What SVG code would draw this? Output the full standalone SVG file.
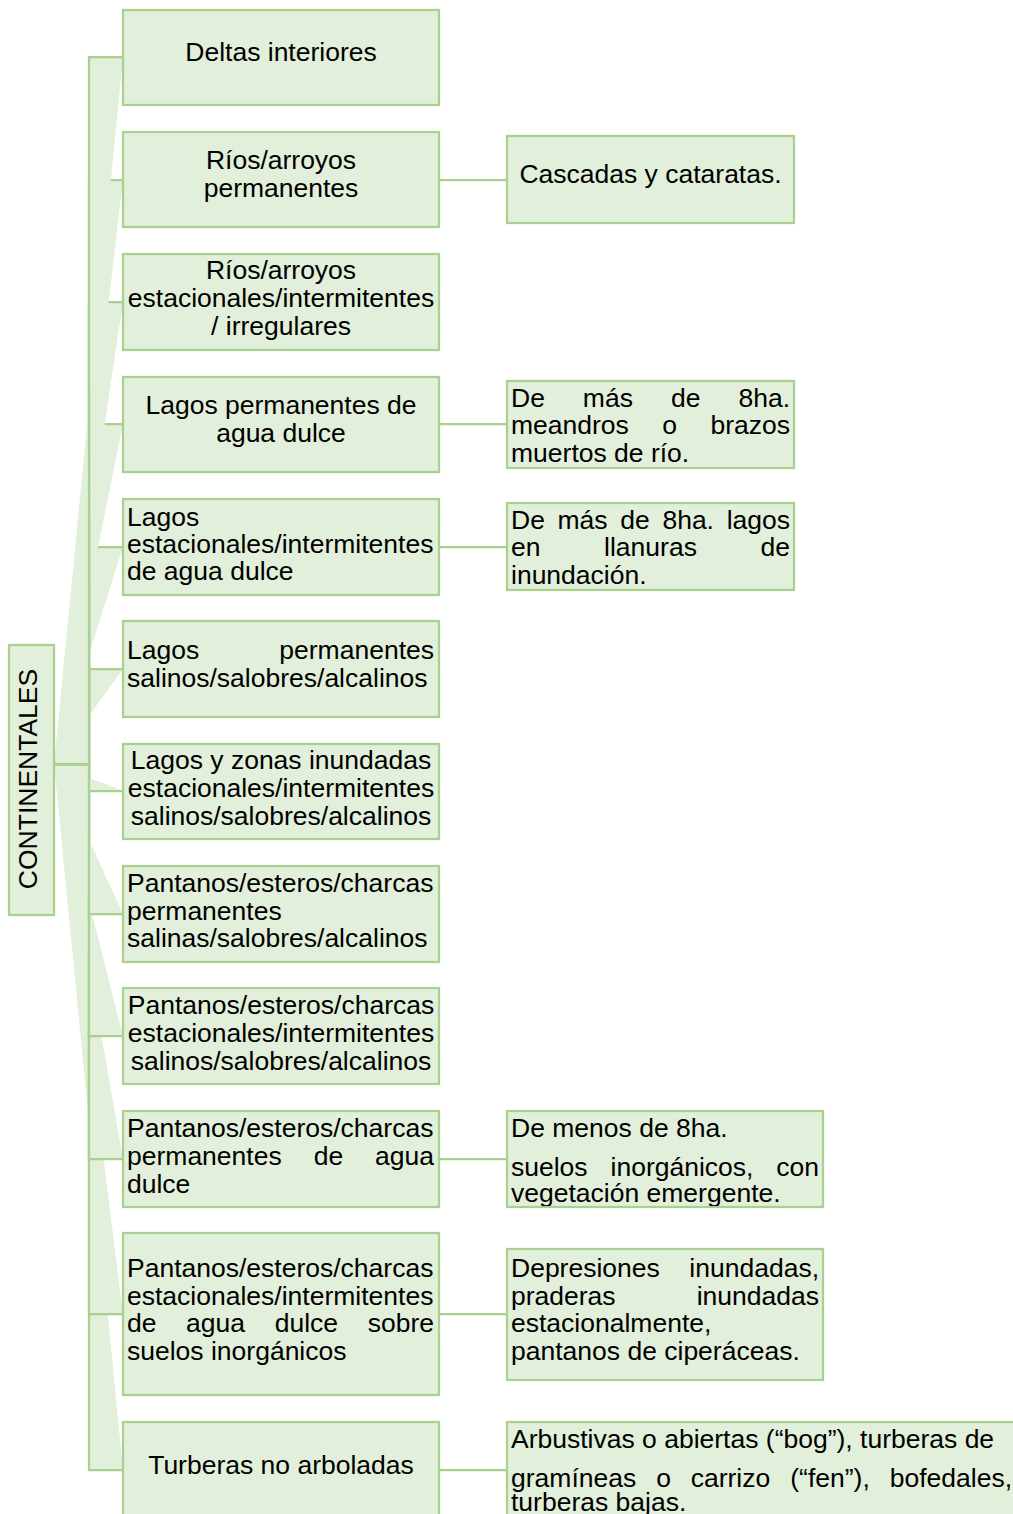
<svg xmlns="http://www.w3.org/2000/svg" width="1013" height="1514" viewBox="0 0 1013 1514">
<style>
.box{fill:#E2EFDA;stroke:#A9D08E;stroke-width:2.25}
.conn{fill:#E2EFDA;stroke:#A9D08E;stroke-width:2.25}
.ln{fill:none;stroke:#A9D08E;stroke-width:2.25}
text{font-family:"Liberation Sans",Arial,sans-serif;font-size:26.5px;fill:#000}
.m{text-anchor:middle}
.e{text-anchor:end}
</style>
<defs>
<clipPath id="clipR4"><rect x="507" y="1111" width="316" height="95"/></clipPath>
</defs>
<rect width="1013" height="1514" fill="#fff"/>
<g id="connectors">
<path class="conn" d="M54,764 H89 V1470 H123"/>
<path class="conn" d="M54,764 H89 V1314 H123"/>
<path class="conn" d="M54,764 H89 V1159 H123"/>
<path class="conn" d="M54,764 H89 V1036 H123"/>
<path class="conn" d="M54,764 H89 V914 H123"/>
<path class="conn" d="M54,764 H89 V791 H123"/>
<path class="conn" d="M54,764 H89 V669 H123"/>
<path class="conn" d="M54,764 H89 V547 H123"/>
<path class="conn" d="M54,764 H89 V424 H123"/>
<path class="conn" d="M54,764 H89 V302 H123"/>
<path class="conn" d="M54,764 H89 V180 H123"/>
<path class="conn" d="M54,764 H89 V57 H123"/>
<path class="ln" d="M439,180 H507"/>
<path class="ln" d="M439,424 H507"/>
<path class="ln" d="M439,547 H507"/>
<path class="ln" d="M439,1159 H507"/>
<path class="ln" d="M439,1314 H507"/>
<path class="ln" d="M439,1470 H507"/>
</g>
<g id="root">
<rect class="box" x="9" y="645" width="45" height="270"/>
<text class="m" transform="translate(37,779) rotate(-90)">CONTINENTALES</text>
</g>
<g id="n1">
<rect class="box" x="123" y="10" width="316" height="95"/>
<text class="m" x="281" y="61">Deltas interiores</text>
</g>
<g id="n2">
<rect class="box" x="123" y="132" width="316" height="95"/>
<text class="m" x="281" y="169">Ríos/arroyos</text>
<text class="m" x="281" y="197">permanentes</text>
</g>
<g id="n3">
<rect class="box" x="123" y="254" width="316" height="96"/>
<text class="m" x="281" y="279">Ríos/arroyos</text>
<text class="m" x="281" y="307">estacionales/intermitentes</text>
<text class="m" x="281" y="335">/ irregulares</text>
</g>
<g id="n4">
<rect class="box" x="123" y="377" width="316" height="95"/>
<text class="m" x="281" y="414">Lagos permanentes de</text>
<text class="m" x="281" y="442">agua dulce</text>
</g>
<g id="n5">
<rect class="box" x="123" y="499" width="316" height="96"/>
<text x="127" y="526">Lagos</text>
<text x="127" y="553">estacionales/intermitentes</text>
<text x="127" y="580">de agua dulce</text>
</g>
<g id="n6">
<rect class="box" x="123" y="621" width="316" height="96"/>
<text x="127" y="659">Lagos</text>
<text class="e" x="434" y="659">permanentes</text>
<text x="127" y="687">salinos/salobres/alcalinos</text>
</g>
<g id="n7">
<rect class="box" x="123" y="744" width="316" height="95"/>
<text class="m" x="281" y="769">Lagos y zonas inundadas</text>
<text class="m" x="281" y="797">estacionales/intermitentes</text>
<text class="m" x="281" y="825">salinos/salobres/alcalinos</text>
</g>
<g id="n8">
<rect class="box" x="123" y="866" width="316" height="96"/>
<text x="127" y="892">Pantanos/esteros/charcas</text>
<text x="127" y="920">permanentes</text>
<text x="127" y="947">salinas/salobres/alcalinos</text>
</g>
<g id="n9">
<rect class="box" x="123" y="988" width="316" height="96"/>
<text class="m" x="281" y="1014">Pantanos/esteros/charcas</text>
<text class="m" x="281" y="1042">estacionales/intermitentes</text>
<text class="m" x="281" y="1070">salinos/salobres/alcalinos</text>
</g>
<g id="n10">
<rect class="box" x="123" y="1111" width="316" height="96"/>
<text x="127" y="1137">Pantanos/esteros/charcas</text>
<text x="127" y="1165">permanentes</text>
<text class="m" x="328.4" y="1165">de</text>
<text class="e" x="434" y="1165">agua</text>
<text x="127" y="1193">dulce</text>
</g>
<g id="n11">
<rect class="box" x="123" y="1233" width="316" height="162"/>
<text x="127" y="1277">Pantanos/esteros/charcas</text>
<text x="127" y="1305">estacionales/intermitentes</text>
<text x="127" y="1332">de</text>
<text class="m" x="215.6" y="1332">agua</text>
<text class="m" x="306.4" y="1332">dulce</text>
<text class="e" x="434" y="1332">sobre</text>
<text x="127" y="1360">suelos inorgánicos</text>
</g>
<g id="n12">
<rect class="box" x="123" y="1422" width="316" height="96"/>
<text class="m" x="281" y="1474">Turberas no arboladas</text>
</g>
<g id="r1">
<rect class="box" x="507" y="136" width="287" height="87"/>
<text class="m" x="650.5" y="183">Cascadas y cataratas.</text>
</g>
<g id="r2">
<rect class="box" x="507" y="381" width="287" height="87"/>
<text x="511" y="407">De</text>
<text class="m" x="607.9" y="407">más</text>
<text class="m" x="685.7" y="407">de</text>
<text class="e" x="790" y="407">8ha.</text>
<text x="511" y="434">meandros</text>
<text class="m" x="669.7" y="434">o</text>
<text class="e" x="790" y="434">brazos</text>
<text x="511" y="462">muertos de río.</text>
</g>
<g id="r3">
<rect class="box" x="507" y="503" width="287" height="87"/>
<text x="511" y="529">De</text>
<text class="m" x="582.6" y="529">más</text>
<text class="m" x="635" y="529">de</text>
<text class="m" x="688.2" y="529">8ha.</text>
<text class="e" x="790" y="529">lagos</text>
<text x="511" y="556">en</text>
<text class="m" x="650.5" y="556">llanuras</text>
<text class="e" x="790" y="556">de</text>
<text x="511" y="584">inundación.</text>
</g>
<g id="r4">
<rect class="box" x="507" y="1111" width="316" height="96"/>
<g clip-path="url(#clipR4)">
<text x="511" y="1137">De menos de 8ha.</text>
<text x="511" y="1176">suelos</text>
<text class="m" x="682" y="1176">inorgánicos,</text>
<text class="e" x="819" y="1176">con</text>
<text x="511" y="1202">vegetación emergente.</text>
</g>
</g>
<g id="r5">
<rect class="box" x="507" y="1249" width="316" height="131"/>
<text x="511" y="1277">Depresiones</text>
<text class="e" x="819" y="1277">inundadas,</text>
<text x="511" y="1305">praderas</text>
<text class="e" x="819" y="1305">inundadas</text>
<text x="511" y="1332">estacionalmente,</text>
<text x="511" y="1360">pantanos de ciperáceas.</text>
</g>
<g id="r6">
<rect class="box" x="507" y="1422" width="520" height="100"/>
<text x="511" y="1448">Arbustivas o abiertas (“bog”), turberas de</text>
<text x="511" y="1487">gramíneas</text>
<text class="m" x="663.5" y="1487">o</text>
<text class="m" x="730.5" y="1487">carrizo</text>
<text class="m" x="830" y="1487">(“fen”),</text>
<text class="e" x="1012" y="1487">bofedales,</text>
<text x="511" y="1511">turberas bajas.</text>
</g>
</svg>
